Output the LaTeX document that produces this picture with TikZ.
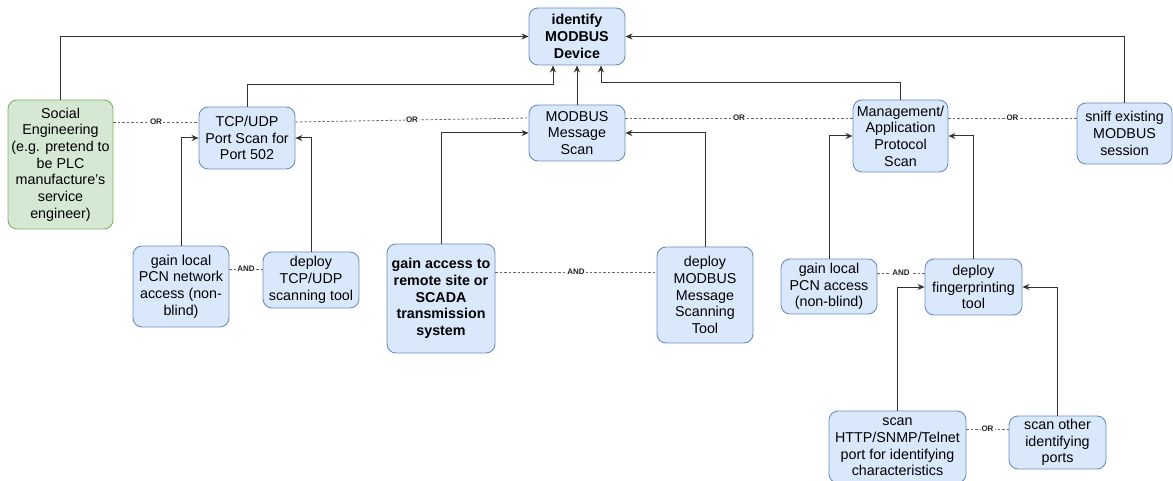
\documentclass[tikz,border=0pt]{standalone}
\usepackage{fontspec}
\setmainfont{Liberation Sans}
\usetikzlibrary{arrows.meta}
\definecolor{bluefill}{HTML}{DAE8FC}
\definecolor{blueline}{HTML}{6C8EBF}
\definecolor{greenfill}{HTML}{D5E8D4}
\definecolor{greenline}{HTML}{82B366}
\definecolor{wire}{HTML}{333333}
\definecolor{dotwire}{HTML}{666666}
\begin{document}
\begin{tikzpicture}[x=1pt,y=-1pt,
  box/.style={draw=blueline,fill=bluefill,rounded corners=9pt,line width=0.9pt,
    align=center,inner sep=0pt,anchor=center,
    font=\fontsize{14.3}{16.7}\selectfont},
  gbox/.style={box,draw=greenline,fill=greenfill},
  bbox/.style={box,font=\fontsize{14.3}{16.7}\selectfont\bfseries},
  arr/.style={draw=wire,line width=1pt,-{Stealth[length=7pt,width=6pt]}},
  link/.style={draw=dotwire,line width=0.8pt,dash pattern=on 2.5pt off 2pt},
  gate/.style={fill=white,inner sep=1pt,font=\fontsize{8}{8}\selectfont\bfseries,text=black!85}
]
\useasboundingbox (0,0) rectangle (1173,481);

% goal
\node[bbox,minimum width=96pt,minimum height=57pt] (idf) at (577,36.5) {identify\\MODBUS\\Device};

% alternatives
\node[gbox,minimum width=105pt,minimum height=129pt] (soc) at (60.5,164.5)
  {Social\\Engineering\\(e.g. pretend to\\be PLC\\manufacture's\\service\\engineer)};
\node[box,minimum width=96pt,minimum height=62pt] (tcp) at (247,138) {TCP/UDP\\Port Scan for\\Port 502};
\node[box,minimum width=96pt,minimum height=56pt] (mscan) at (577,133) {MODBUS\\Message\\Scan};
\node[box,minimum width=95pt,minimum height=72pt] (mgmt) at (900.5,136) {Management/\\Application\\Protocol\\Scan};
\node[box,minimum width=95pt,minimum height=61pt] (sniff) at (1124.5,133.5) {sniff existing\\MODBUS\\session};

% sub-steps
\node[box,minimum width=96pt,minimum height=81pt] (gpcn) at (181,286.5) {gain local\\PCN network\\access (non-\\blind)};
\node[box,minimum width=96pt,minimum height=56pt] (dtcp) at (311,280) {deploy\\TCP/UDP\\scanning tool};
\node[bbox,minimum width=108pt,minimum height=109pt] (remote) at (441,298.5) {gain access to\\remote site or\\SCADA\\transmission\\system};
\node[box,minimum width=96pt,minimum height=96pt] (dmod) at (705,295) {deploy\\MODBUS\\Message\\Scanning\\Tool};
\node[box,minimum width=96pt,minimum height=55pt] (gpcn2) at (829,286.5) {gain local\\PCN access\\(non-blind)};
\node[box,minimum width=97pt,minimum height=56pt] (fing) at (973.5,287) {deploy\\fingerprinting\\tool};
\node[box,minimum width=137pt,minimum height=72pt] (http) at (897.5,447) {scan\\HTTP/SNMP/Telnet\\port for identifying\\characteristics};
\node[box,minimum width=97pt,minimum height=53pt] (other) at (1057.5,442.5) {scan other\\identifying\\ports};

% arrows to the goal
\draw[arr] (soc.north) |- (idf.west);
\draw[arr] (sniff.north) |- (idf.east);
\draw[arr] (tcp.north) -- ++(0,-22) -| ([xshift=-24pt]idf.south);
\draw[arr] (mgmt.north) -- ++(0,-17) -| ([xshift=24pt]idf.south);
\draw[arr] (mscan.north) -- (idf.south);

% arrows to the alternatives
\draw[arr] (gpcn.north) |- (tcp.west);
\draw[arr] (dtcp.north) |- (tcp.east);
\draw[arr] (remote.north) |- (mscan.west);
\draw[arr] (dmod.north) |- (mscan.east);
\draw[arr] (gpcn2.north) |- (mgmt.west);
\draw[arr] (fing.north) |- (mgmt.east);
\draw[arr] (http.north) |- (fing.west);
\draw[arr] (other.north) |- (fing.east);

% OR / AND relations
\coordinate (yA) at (0,122);
\coordinate (yB) at (0,118);
\draw[link] (soc.east |- yA) -- node[gate] {OR} (tcp.west |- yA);
\draw[link] (tcp.east |- yA) -- node[gate] {OR} (mscan.west |- yB);
\draw[link] (mscan.east |- yB) -- node[gate] {OR} (mgmt.west |- yB);
\draw[link] (mgmt.east |- yB) -- node[gate] {OR} (sniff.west |- yB);

\coordinate (yC) at (0,269);
\coordinate (yD) at (0,272);
\coordinate (yE) at (0,273);
\coordinate (yF) at (0,429);
\draw[link] (gpcn.east |- yC) -- node[gate] {AND} (dtcp.west |- yC);
\draw[link] (remote.east |- yD) -- node[gate] {AND} (dmod.west |- yD);
\draw[link] (gpcn2.east |- yE) -- node[gate] {AND} (fing.west |- yE);
\draw[link] (http.east |- yF) -- node[gate] {OR} (other.west |- yF);
\end{tikzpicture}
\end{document}
